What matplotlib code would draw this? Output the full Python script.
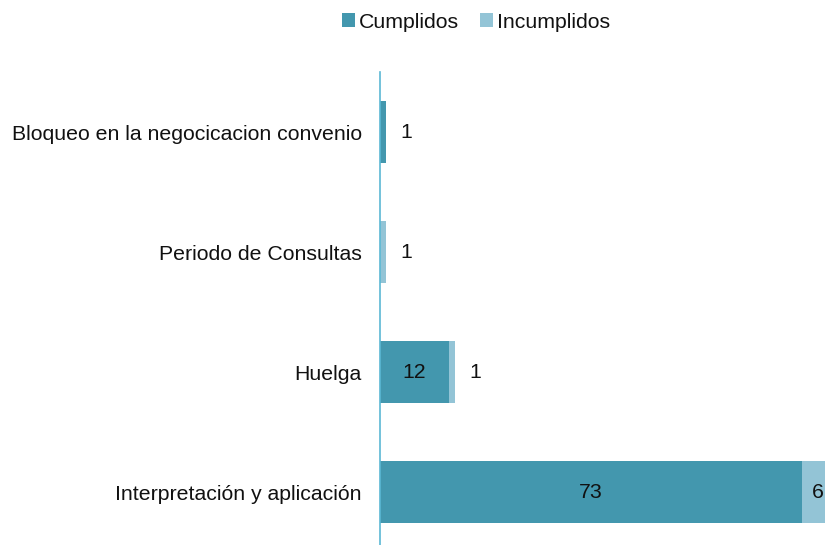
import matplotlib.pyplot as plt
import numpy as np

plt.rcParams['font.family'] = ['Liberation Sans', 'DejaVu Sans']

# Datos
categorias = ['Bloqueo en la negocicacion convenio', 'Periodo de Consultas',
              'Huelga', 'Interpretación y aplicación']
cumplidos = [1, 0, 12, 73]
incumplidos = [0, 1, 1, 6]

c_cump = '#4397AE'
c_inc = '#93C4D6'
fs = 15.3

fig = plt.figure(figsize=(8.25, 5.45), dpi=100)
ax = fig.add_axes([380 / 825, 0, 445 / 825, (545 - 72) / 545])

y = np.arange(len(categorias))
h = 0.52
b1 = ax.barh(y, cumplidos, height=h, color=c_cump, label='Cumplidos')
b2 = ax.barh(y, incumplidos, left=cumplidos, height=h, color=c_inc, label='Incumplidos')

ax.set_xlim(0, 77)
ax.set_ylim(3.44, -0.5)

# Etiquetas de valores
for i in range(len(categorias)):
    c, n = cumplidos[i], incumplidos[i]
    if c >= 5:
        ax.text(c / 2, i, str(c), ha='center', va='center', fontsize=fs, color='#111111')
    elif c > 0:
        ax.text(c + 3.5, i, str(c), ha='center', va='center', fontsize=fs, color='#111111')
    if n >= 5:
        ax.text(c + n / 2 - 0.2, i, str(n), ha='center', va='center', fontsize=fs,
                color='#111111', clip_on=False)
    elif n > 0:
        ax.text(c + n + 3.5, i, str(n), ha='center', va='center', fontsize=fs, color='#111111')

ax.set_yticks(y)
ax.set_yticklabels(categorias, fontsize=fs, color='#111111')
ax.tick_params(axis='y', length=0, pad=13)
ax.set_xticks([])
for s in ['top', 'right', 'bottom']:
    ax.spines[s].set_visible(False)
ax.spines['left'].set_color('#5BB8D4')
ax.spines['left'].set_linewidth(1.2)

fig.legend(handles=[b1, b2], loc='upper center', bbox_to_anchor=(0.577, 1.012),
           ncol=2, frameon=False, fontsize=fs, handlelength=0.6, handleheight=0.6,
           handletextpad=0.2, columnspacing=1.0, labelcolor='#111111')

fig.savefig('out.png', dpi=100)
